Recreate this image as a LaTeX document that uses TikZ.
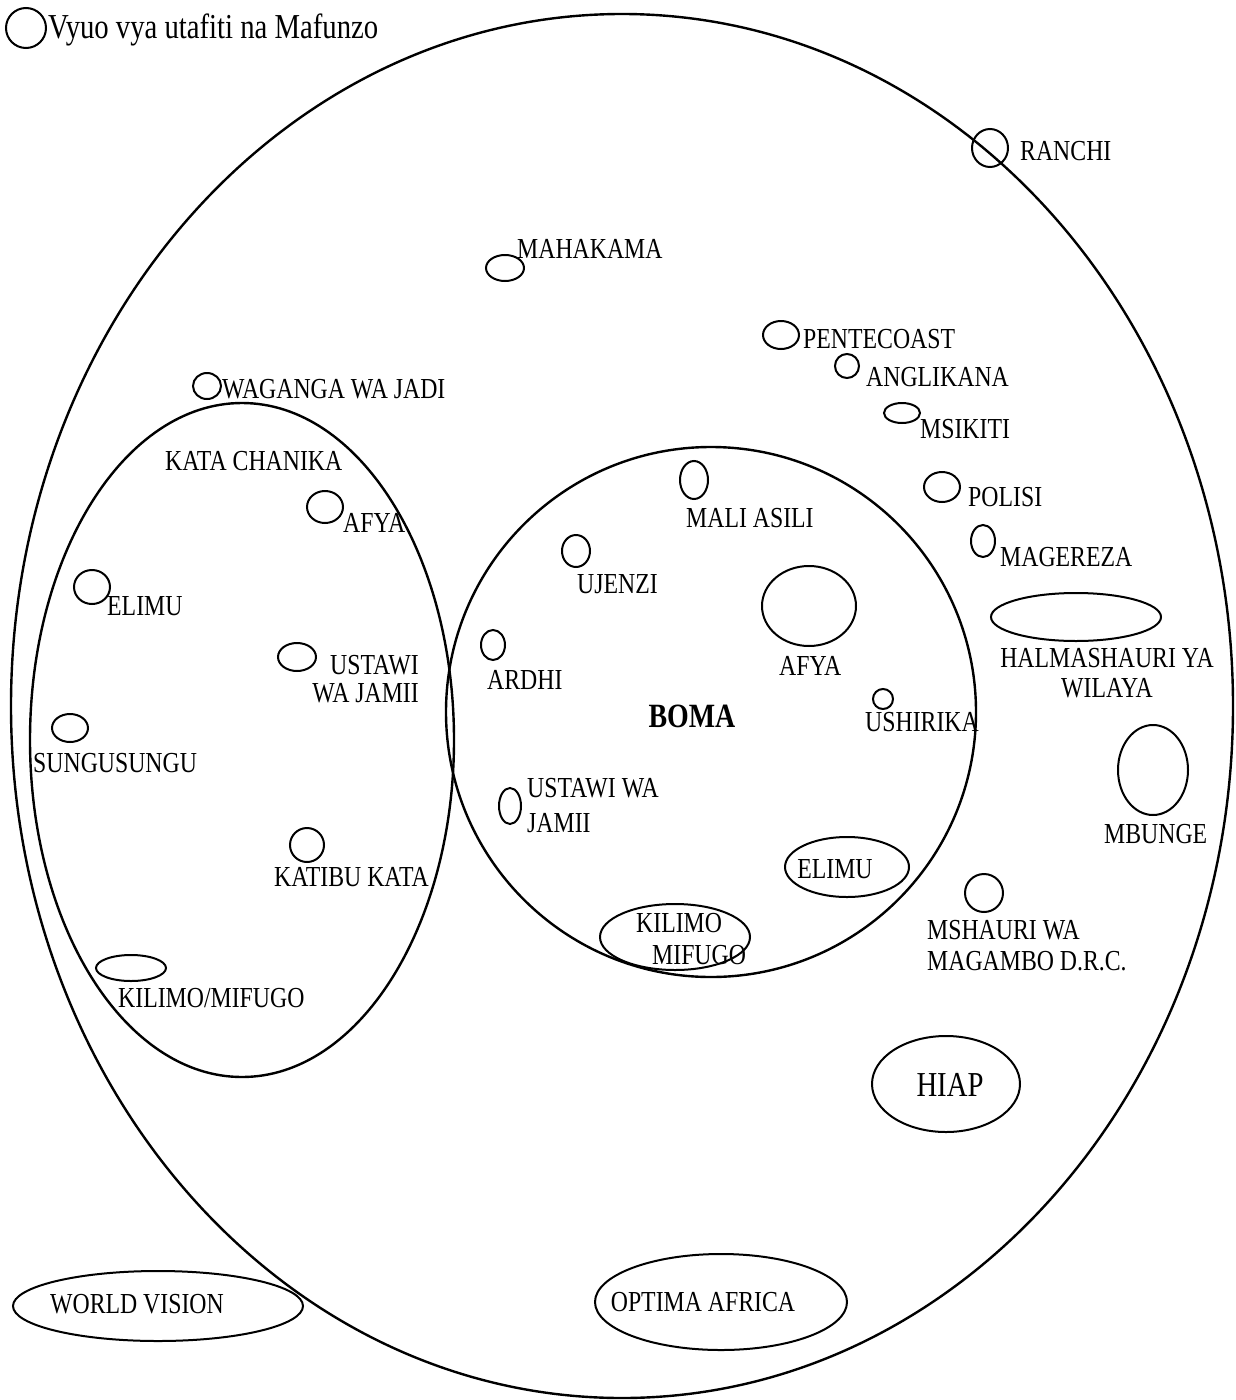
\documentclass[tikz,border=0pt]{standalone}
\usepackage{fontspec}
\setmainfont{Liberation Serif}[FakeStretch=0.82]
\usetikzlibrary{shapes.geometric}
\begin{document}
\begin{tikzpicture}[x=1pt,y=-1pt,
  ring/.style={draw, ellipse, inner sep=0pt, line width=2.4pt},
  mk/.style={draw, ellipse, inner sep=0pt, line width=2pt},
  lbl/.style={inner sep=0pt, font=\fontsize{29}{30}\selectfont}]
\useasboundingbox (0,0) rectangle (1236,1400);

\node[ring, minimum width=1222pt, minimum height=1384pt](wilaya) at (622,706) {};
\node[ring, minimum width=424pt, minimum height=674pt](kata) at (242,740) {};
\node[ring, minimum width=530pt, minimum height=530pt](boma) at (711,712) {};

\node[mk, minimum width=40pt, minimum height=40pt](vyuo) at (26,28) {};
\node[lbl, anchor=base west, font=\fontsize{35}{36}\selectfont](vyuo-l) at (48,38) {Vyuo vya utafiti na Mafunzo};

\node[mk, minimum width=36pt, minimum height=38pt](ranchi) at (990,148) {};
\node[lbl, anchor=base west](ranchi-l) at (1020,160) {RANCHI};
\node[mk, minimum width=38pt, minimum height=26pt](mahakama) at (505,268) {};
\node[lbl, anchor=base west](mahakama-l) at (517,258) {MAHAKAMA};
\node[mk, minimum width=36pt, minimum height=28pt](pentecoast) at (781,335) {};
\node[lbl, anchor=base west](pentecoast-l) at (803,348) {PENTECOAST};
\node[mk, minimum width=24pt, minimum height=24pt](anglikana) at (847,366) {};
\node[lbl, anchor=base west](anglikana-l) at (866,386) {ANGLIKANA};
\node[mk, minimum width=36pt, minimum height=20pt](msikiti) at (902,413) {};
\node[lbl, anchor=base west](msikiti-l) at (920,438) {MSIKITI};
\node[mk, minimum width=36pt, minimum height=30pt](polisi) at (942,487) {};
\node[lbl, anchor=base west](polisi-l) at (968,506) {POLISI};
\node[mk, minimum width=24pt, minimum height=32pt](magereza) at (983,541) {};
\node[lbl, anchor=base west](magereza-l) at (1000,566) {MAGEREZA};
\node[mk, minimum width=170pt, minimum height=48pt](halmashauri) at (1076,617) {};
\node[lbl, align=center](halmashauri-l) at (1107,673) {HALMASHAURI YA\\WILAYA};
\node[mk, minimum width=70pt, minimum height=90pt](mbunge) at (1153,770) {};
\node[lbl, anchor=base west](mbunge-l) at (1104,843) {MBUNGE};
\node[mk, minimum width=38pt, minimum height=38pt](mshauri) at (984,893) {};
\node[lbl, anchor=west, align=left, font=\fontsize{29}{31}\selectfont](mshauri-l) at (927,946) {MSHAURI WA\\MAGAMBO D.R.C.};
\node[mk, minimum width=148pt, minimum height=96pt](hiap) at (946,1084) {};
\node[lbl, font=\fontsize{35}{36}\selectfont](hiap-l) at (950,1085) {HIAP};
\node[mk, minimum width=252pt, minimum height=96pt](optima) at (721,1302) {};
\node[lbl](optima-l) at (703,1302) {OPTIMA AFRICA};
\node[mk, minimum width=290pt, minimum height=70pt](worldvision) at (158,1306) {};
\node[lbl](worldvision-l) at (137,1304) {WORLD VISION};
\node[mk, minimum width=28pt, minimum height=26pt](waganga) at (207,386) {};
\node[lbl, anchor=base west](waganga-l) at (222,398) {WAGANGA WA JADI};

\node[lbl, anchor=base west](kata-l) at (165,470) {KATA CHANIKA};
\node[mk, minimum width=36pt, minimum height=32pt](afyaK) at (325,507) {};
\node[lbl, anchor=base west](afyaK-l) at (343,532) {AFYA};
\node[mk, minimum width=36pt, minimum height=34pt](elimuK) at (92,587) {};
\node[lbl, anchor=base west](elimuK-l) at (107,615) {ELIMU};
\node[mk, minimum width=38pt, minimum height=28pt](ustawiK) at (297,657) {};
\node[lbl, anchor=east, align=right, font=\fontsize{29}{28}\selectfont](ustawiK-l) at (419,679) {USTAWI\\WA JAMII};
\node[mk, minimum width=36pt, minimum height=28pt](sungusungu) at (70,728) {};
\node[lbl, anchor=base west](sungusungu-l) at (33,772) {SUNGUSUNGU};
\node[mk, minimum width=34pt, minimum height=34pt](katibu) at (307,845) {};
\node[lbl, anchor=base west](katibu-l) at (274,886) {KATIBU KATA};
\node[mk, minimum width=70pt, minimum height=26pt](kilimoK) at (131,968) {};
\node[lbl, anchor=base west](kilimoK-l) at (118,1007) {KILIMO/MIFUGO};

\node[lbl, font=\fontsize{34}{36}\selectfont\bfseries](boma-l) at (692,716) {BOMA};
\node[mk, minimum width=28pt, minimum height=38pt](maliasili) at (694,480) {};
\node[lbl, anchor=base west](maliasili-l) at (686,527) {MALI ASILI};
\node[mk, minimum width=28pt, minimum height=32pt](ujenzi) at (576,551) {};
\node[lbl, anchor=base west](ujenzi-l) at (577,593) {UJENZI};
\node[mk, minimum width=24pt, minimum height=30pt](ardhi) at (493,645) {};
\node[lbl, anchor=base west](ardhi-l) at (487,689) {ARDHI};
\node[mk, minimum width=94pt, minimum height=80pt](afyaB) at (809,606) {};
\node[lbl, anchor=base west](afyaB-l) at (779,675) {AFYA};
\node[mk, minimum width=20pt, minimum height=20pt](ushirika) at (883,699) {};
\node[lbl, anchor=base west](ushirika-l) at (865,731) {USHIRIKA};
\node[mk, minimum width=22pt, minimum height=36pt](ustawiB) at (510,806) {};
\node[lbl, anchor=west, align=left, font=\fontsize{29}{35}\selectfont](ustawiB-l) at (527,806) {USTAWI WA\\JAMII};
\node[mk, minimum width=124pt, minimum height=60pt](elimuB) at (847,867) {};
\node[lbl](elimuB-l) at (835,869) {ELIMU};
\node[mk, minimum width=150pt, minimum height=66pt](kilimoB) at (675,937) {};
\node[lbl, anchor=west, align=left, font=\fontsize{29}{32}\selectfont](kilimoB-l) at (636,939) {KILIMO\\\hspace*{16pt}MIFUGO};

\end{tikzpicture}
\end{document}
